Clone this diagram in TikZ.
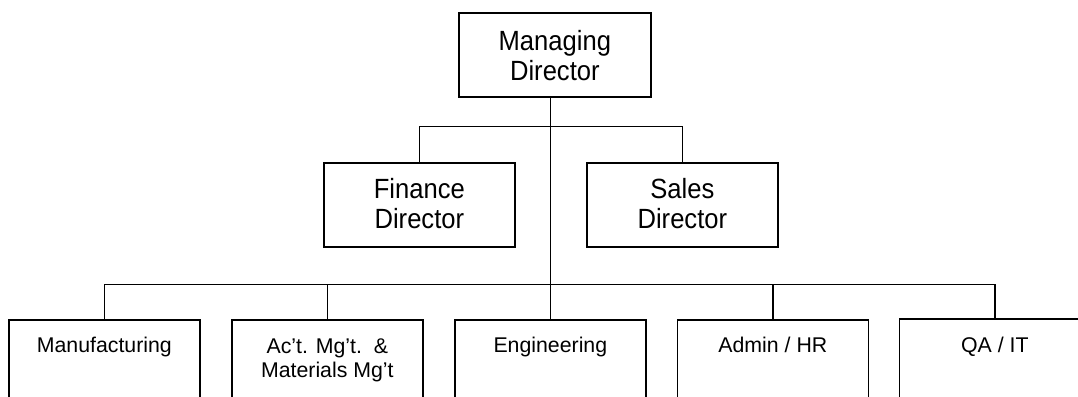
\documentclass[tikz,border=0pt]{standalone}
\usepackage{fontspec}
\setmainfont{Liberation Sans}
\newfontfamily\bigfam[FakeStretch=0.92]{Liberation Sans}
\begin{document}
\begin{tikzpicture}[x=1pt,y=-1pt,
  box/.style={draw, line width=1.7pt, minimum width=191pt, inner sep=0pt, anchor=north west},
  big/.style={font=\bigfam\fontsize{27.8}{30.4}\selectfont, align=center, inner sep=0pt, anchor=base},
  small/.style={font=\fontsize{21.3}{23.7}\selectfont, align=center, inner sep=0pt, anchor=base},
  link/.style={line width=1.3pt}]
\useasboundingbox (0,0) rectangle (1078,396);
\clip (0,0) rectangle (1078,396);
% top level
\node[box, minimum width=192pt, minimum height=84pt] (md) at (458,12) {};
\node[big] (mdt) at (md.north |- 0,81) {Managing\\Director};
% directors
\node[box, minimum height=84pt] (fin) at (323,162) {};
\node[box, minimum height=84pt] (sal) at (586,162) {};
\node[big] (fint) at (fin.north |- 0,228.7) {Finance\\Director};
\node[big] (salt) at (sal.north |- 0,228.7) {Sales\\Director};
% departments
\node[box, minimum height=130pt] (mf)  at (8,319) {};
\node[box, minimum height=130pt] (ac)  at (231,319) {};
\node[box, minimum height=130pt] (eng) at (454,319) {};
\node[box, minimum height=130pt] (adm) at (676.5,319) {};
\node[box, minimum height=130pt] (qa)  at (898.5,318) {};
\node[small] (mft)  at (mf.north |- 0,352.6) {Manufacturing};
\node[small] (act)  at (ac.north |- 0,377.4) {Ac’t. Mg’t.\ \ \&\\Materials Mg’t};
\node[small] (engt) at (eng.north |- 0,352.6) {Engineering};
\node[small] (admt) at (adm.north |- 0,352.6) {Admin / HR};
\node[small] (qat)  at (qa.north |- 0,352.6) {QA / IT};
% connectors
\draw[link] (md.south -| eng.north) -- (eng.north);
\draw[link] (fin.north) -- ++(0,-35.3) -| (sal.north);
\draw[link] (mf.north) -- ++(0,-34.7) -| (qa.north);
\draw[link] (ac.north) -- ++(0,-34.7);
\draw[link] (adm.north) -- ++(0,-34.7);
\end{tikzpicture}
\end{document}
